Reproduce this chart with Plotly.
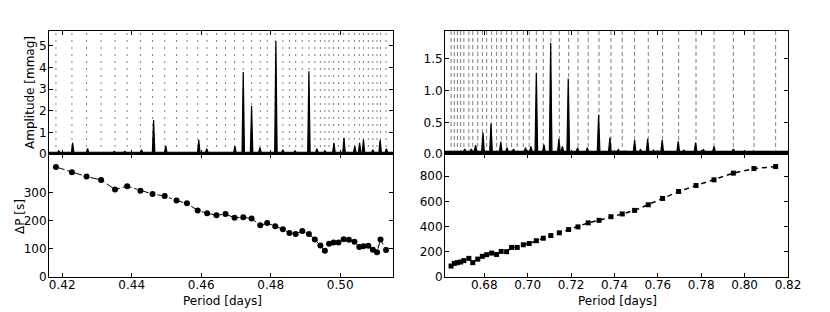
import plotly.graph_objects as go

# ---------------- data ----------------
# Left star: mode periods [days] and period spacings [s]
left_period = [0.4182, 0.4228, 0.4270, 0.4312, 0.4352, 0.4387, 0.4425, 0.4460, 0.4495,
               0.4529, 0.4559, 0.4590, 0.4617, 0.4644, 0.4670, 0.4696, 0.4721, 0.4745,
               0.4770, 0.4790, 0.4813, 0.4835, 0.4854, 0.4872, 0.4891, 0.4910, 0.4927,
               0.4943, 0.4956, 0.4968, 0.4981, 0.4995, 0.5010, 0.5025, 0.5041, 0.5055,
               0.5067, 0.5081, 0.5094, 0.5106, 0.5116, 0.5132]
left_dp = [390, 371, 356, 344, 310, 322, 306, 294, 287, 271, 261, 236, 226, 219, 223, 210,
           212, 207, 183, 191, 180, 169, 156, 152, 163, 152, 133, 112, 93, 118, 122, 122,
           134, 132, 125, 106, 109, 111, 97, 88, 133, 96]

# Right star
right_period = [0.6647, 0.6662, 0.6676, 0.6691, 0.6706, 0.6729, 0.6747, 0.6770, 0.6791,
                0.6811, 0.6834, 0.6857, 0.6878, 0.6903, 0.6926, 0.6952, 0.6980, 0.7007,
                0.7040, 0.7072, 0.7107, 0.7146, 0.7189, 0.7232, 0.7279, 0.7329, 0.7384,
                0.7436, 0.7493, 0.7556, 0.7622, 0.7696, 0.7776, 0.7859, 0.7948, 0.8043,
                0.8143]
right_dp = [87, 108, 114, 119, 130, 148, 114, 142, 164, 177, 190, 179, 203, 201, 235, 235,
            256, 266, 288, 308, 329, 351, 377, 398, 430, 450, 479, 501, 529, 574, 624, 679,
            727, 772, 825, 861, 877]

# Amplitude spectra: peak periods [days] and amplitudes [mmag]
left_peak_p = [0.4190, 0.4230, 0.4273, 0.4350, 0.4380, 0.4428, 0.4463, 0.4498, 0.4593,
               0.4616, 0.4697, 0.4721, 0.4745, 0.4769, 0.4815, 0.4835, 0.4870, 0.4910,
               0.4933, 0.4956, 0.4982, 0.5011, 0.5042, 0.5056, 0.5067, 0.5094, 0.5115,
               0.5133]
left_peak_a = [0.15, 0.52, 0.26, 0.12, 0.12, 0.20, 1.57, 0.38, 0.65, 0.25, 0.37, 3.79, 2.21,
               0.30, 5.22, 0.20, 0.15, 3.82, 0.25, 0.15, 0.52, 0.75, 0.38, 0.52, 0.68, 0.20,
               0.65, 0.25]
left_floor = 0.08

right_peak_p = [0.6710, 0.6740, 0.6760, 0.6794, 0.6831, 0.6876, 0.6905, 0.6935, 0.6990,
                0.7015, 0.7040, 0.7075, 0.7106, 0.7144, 0.7160, 0.7187, 0.7230, 0.7275,
                0.7327, 0.7379, 0.7418, 0.7450, 0.7493, 0.7520, 0.7553, 0.7580, 0.7620,
                0.7694, 0.7720, 0.7774, 0.7810, 0.7859, 0.7948, 0.8040, 0.8100]
right_peak_a = [0.08, 0.08, 0.14, 0.34, 0.48, 0.19, 0.10, 0.08, 0.10, 0.12, 1.28, 0.15,
                1.75, 0.24, 0.12, 1.19, 0.10, 0.10, 0.62, 0.26, 0.07, 0.05, 0.22, 0.07,
                0.24, 0.06, 0.22, 0.20, 0.06, 0.18, 0.07, 0.12, 0.08, 0.05, 0.04]
right_floor = 0.04

left_xrange = [0.4162, 0.5152]
right_xrange = [0.6619, 0.8200]
left_amp_range = [0, 5.68]
right_amp_range = [0, 1.94]
left_dp_range = [0, 436]
right_dp_range = [0, 977]

left_xticks = [0.42, 0.44, 0.46, 0.48, 0.50]
right_xticks = [0.68, 0.70, 0.72, 0.74, 0.76, 0.78, 0.80, 0.82]


def spectrum(peak_p, peak_a, floor, hw, xr):
    xs, ys = [xr[0]], [floor]
    for p, a in sorted(zip(peak_p, peak_a)):
        xs += [p - hw, p, p + hw]
        ys += [floor, a, floor]
    xs.append(xr[1])
    ys.append(floor)
    return xs, ys


def vlines(periods, top):
    xs, ys = [], []
    for p in periods:
        xs += [p, p, None]
        ys += [0, top, None]
    return xs, ys


fig = go.Figure()

# ---- left top: spectrum with dotted mode lines
vx, vy = vlines(left_period, left_amp_range[1])
fig.add_trace(go.Scatter(x=vx, y=vy, mode="lines", xaxis="x3", yaxis="y3",
                         line=dict(color="#808080", width=1, dash="2px,5px"),
                         hoverinfo="skip", showlegend=False))
sx, sy = spectrum(left_peak_p, left_peak_a, left_floor, 0.00035, left_xrange)
fig.add_trace(go.Scatter(x=sx, y=sy, mode="lines", xaxis="x3", yaxis="y3",
                         fill="tozeroy", fillcolor="black",
                         line=dict(color="black", width=1.2), showlegend=False))

# ---- left bottom: period spacing
fig.add_trace(go.Scatter(x=left_period, y=left_dp, mode="lines+markers", xaxis="x", yaxis="y",
                         line=dict(color="black", width=1, dash="dashdot"),
                         marker=dict(symbol="circle", size=6, color="black"),
                         showlegend=False))

# ---- right top
vx, vy = vlines(right_period, right_amp_range[1])
fig.add_trace(go.Scatter(x=vx, y=vy, mode="lines", xaxis="x4", yaxis="y4",
                         line=dict(color="#808080", width=1, dash="4px,3px"),
                         hoverinfo="skip", showlegend=False))
sx, sy = spectrum(right_peak_p, right_peak_a, right_floor, 0.0006, right_xrange)
fig.add_trace(go.Scatter(x=sx, y=sy, mode="lines", xaxis="x4", yaxis="y4",
                         fill="tozeroy", fillcolor="black",
                         line=dict(color="black", width=1.2), showlegend=False))

# ---- right bottom
fig.add_trace(go.Scatter(x=right_period, y=right_dp, mode="lines+markers", xaxis="x2", yaxis="y2",
                         line=dict(color="black", width=1.5, dash="5px,4px"),
                         marker=dict(symbol="square", size=5, color="black"),
                         showlegend=False))

# the page shows the figure offset by the body's 8px margin
OFF = 8
W, H = 830, 312


def px(xp):
    return (xp - OFF) / W


def py(yp):
    return 1 - (yp - OFF) / H


lx = [px(49), px(393)]
rx = [px(445), px(788)]
top_d = [py(154), py(31)]
bot_d = [py(277), py(154)]

font = dict(family="DejaVu Sans", size=12, color="black")
common = dict(showline=True, linecolor="black", linewidth=1, mirror="ticks",
              ticks="inside", ticklen=4, tickcolor="black", showgrid=False,
              zeroline=False, tickfont=font, automargin=False)
xcommon = dict(common, ticklabelstandoff=-3)
ycommon = dict(common, ticklabelstandoff=-1)

fig.update_layout(
    width=W, height=H, margin=dict(l=0, r=0, t=0, b=0),
    paper_bgcolor="white", plot_bgcolor="white", font=font,
    xaxis=dict(domain=lx, anchor="y", range=left_xrange, tickvals=left_xticks,
               tickformat=".2f", **xcommon),
    yaxis=dict(domain=bot_d, anchor="x", range=left_dp_range, tickvals=[0, 100, 200, 300], **ycommon),
    xaxis2=dict(domain=rx, anchor="y2", range=right_xrange, tickvals=right_xticks,
                tickformat=".2f", **xcommon),
    yaxis2=dict(domain=bot_d, anchor="x2", range=right_dp_range,
                tickvals=[0, 200, 400, 600, 800], **ycommon),
    xaxis3=dict(domain=lx, anchor="y3", range=left_xrange, tickvals=left_xticks,
                showticklabels=False, **xcommon),
    yaxis3=dict(domain=top_d, anchor="x3", range=left_amp_range, tickvals=[0, 1, 2, 3, 4, 5], **ycommon),
    xaxis4=dict(domain=rx, anchor="y4", range=right_xrange, tickvals=right_xticks,
                showticklabels=False, **xcommon),
    yaxis4=dict(domain=top_d, anchor="x4", range=right_amp_range,
                tickvals=[0, 0.5, 1.0, 1.5], tickformat=".1f", **ycommon),
    annotations=[
        dict(text="Amplitude [mmag]", x=px(30), y=py(93), xref="paper", yref="paper",
             textangle=-90, showarrow=False, xanchor="center", yanchor="middle", font=font),
        dict(text="ΔP [s]", x=px(20), y=py(217), xref="paper", yref="paper",
             textangle=-90, showarrow=False, xanchor="center", yanchor="middle", font=font),
        dict(text="Period [days]", x=px(222), y=py(301), xref="paper", yref="paper",
             showarrow=False, xanchor="center", yanchor="middle", font=font),
        dict(text="Period [days]", x=px(617), y=py(301), xref="paper", yref="paper",
             showarrow=False, xanchor="center", yanchor="middle", font=font),
    ],
)

fig.write_html("out.html")
